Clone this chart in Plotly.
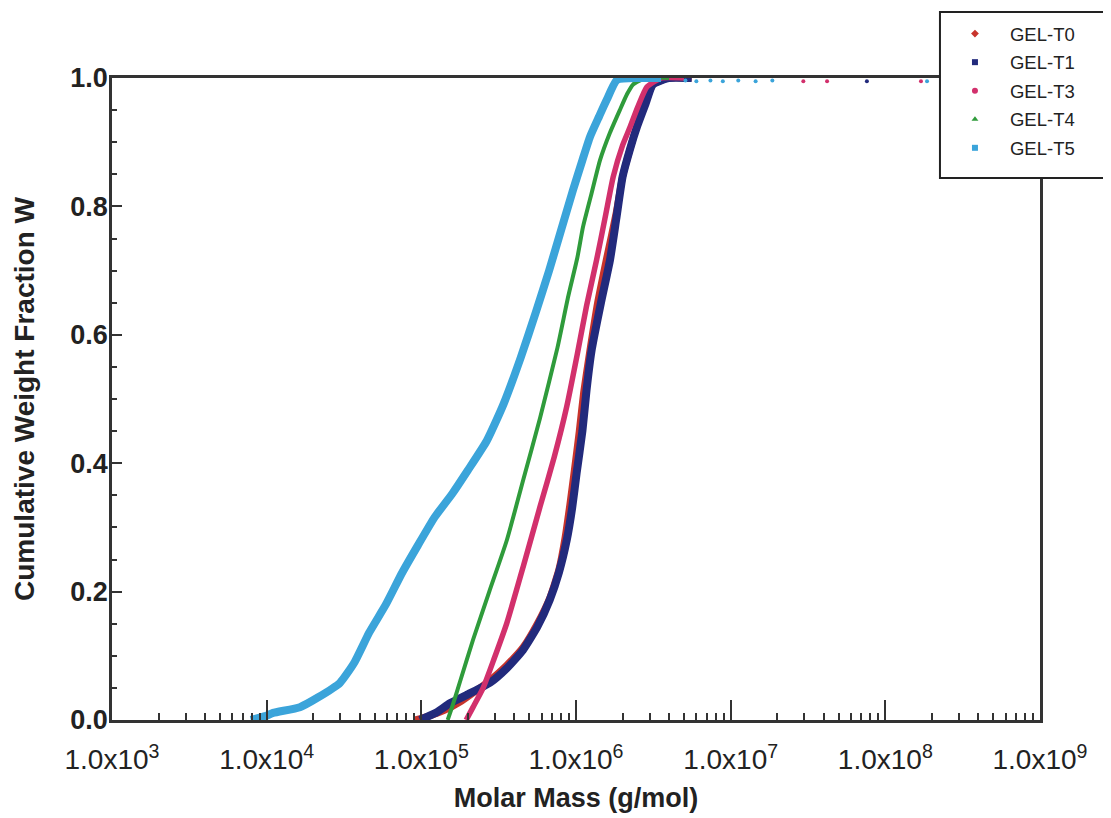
import plotly.graph_objects as go

# ---------------- data ----------------
series_names = ["GEL-T0", "GEL-T1", "GEL-T3", "GEL-T4", "GEL-T5"]

# GEL-T0
t0_mass = [9.1e4, 1.12e5, 1.41e5, 1.78e5, 2.24e5, 2.78e5, 3.55e5, 4.54e5, 5.62e5, 6.76e5,
           7.76e5, 8.51e5, 9.12e5, 9.77e5, 1.05e6, 1.12e6, 1.22e6, 1.38e6, 1.58e6, 1.82e6,
           2.0e6, 2.24e6, 2.51e6, 2.82e6, 3.16e6, 3.98e6, 5.6e6]
t0_w = [0.0, 0.006, 0.015, 0.028, 0.045, 0.062, 0.085, 0.113, 0.15, 0.19,
        0.235, 0.285, 0.335, 0.39, 0.45, 0.51, 0.57, 0.65, 0.72, 0.79,
        0.846, 0.89, 0.93, 0.965, 0.99, 1.0, 1.0]

# GEL-T1
t1_mass = [9.8e4, 1.26e5, 1.53e5, 2.0e5, 2.78e5, 3.55e5, 4.54e5, 5.62e5, 6.76e5, 7.76e5,
           8.71e5, 9.44e5, 1.01e6, 1.10e6, 1.17e6, 1.26e6, 1.45e6, 1.66e6, 1.82e6, 2.0e6,
           2.24e6, 2.48e6, 2.82e6, 3.14e6, 3.98e6, 5.6e6]
t1_w = [0.0, 0.012, 0.026, 0.04, 0.058, 0.08, 0.109, 0.145, 0.187, 0.23,
        0.28, 0.33, 0.385, 0.45, 0.514, 0.575, 0.65, 0.717, 0.78, 0.846,
        0.89, 0.924, 0.96, 0.99, 1.0, 1.0]

# GEL-T3
t3_mass = [1.95e5, 2.16e5, 2.51e5, 2.95e5, 3.57e5, 4.57e5, 5.85e5, 7.24e5, 8.71e5, 1.02e6,
           1.17e6, 1.36e6, 1.55e6, 1.74e6, 2.0e6, 2.24e6, 2.51e6, 2.87e6, 3.55e6, 5.0e6]
t3_w = [0.0, 0.02, 0.05, 0.095, 0.151, 0.24, 0.332, 0.41, 0.488, 0.57,
        0.645, 0.717, 0.785, 0.846, 0.895, 0.924, 0.955, 0.986, 1.0, 1.0]

# GEL-T4
t4_mass = [1.48e5, 1.58e5, 1.78e5, 2.16e5, 2.75e5, 3.57e5, 4.57e5, 5.85e5, 7.59e5, 8.91e5,
           1.02e6, 1.11e6, 1.26e6, 1.43e6, 1.66e6, 1.92e6, 2.14e6, 2.34e6, 2.82e6, 4.0e6]
t4_w = [0.0, 0.02, 0.06, 0.125, 0.20, 0.28, 0.375, 0.47, 0.58, 0.66,
        0.72, 0.768, 0.82, 0.872, 0.915, 0.95, 0.975, 0.99, 1.0, 1.0]

# GEL-T5
t5_mass = [7.9e3, 9.8e3, 1.10e4, 1.64e4, 2.14e4, 2.98e4, 3.70e4, 4.60e4, 5.90e4, 7.50e4,
           9.50e4, 1.22e5, 1.58e5, 2.00e5, 2.65e5, 3.40e5, 4.40e5, 5.50e5, 6.70e5, 7.94e5,
           9.55e5, 1.10e6, 1.23e6, 1.41e6, 1.58e6, 1.84e6, 2.51e6, 3.55e6]
t5_w = [0.0, 0.006, 0.011, 0.02, 0.035, 0.058, 0.09, 0.136, 0.18, 0.229,
        0.272, 0.316, 0.352, 0.389, 0.435, 0.492, 0.565, 0.635, 0.70, 0.76,
        0.825, 0.872, 0.908, 0.94, 0.966, 0.997, 1.0, 1.0]

# sparse points near W = 1 at high molar mass
t5_tail_mass = [5.1e6, 6.0e6, 7.4e6, 8.9e6, 1.12e7, 1.45e7, 1.86e7, 1.86e8]
t5_tail_w = [0.996, 0.995, 0.996, 0.995, 0.996, 0.995, 0.996, 0.995]
t3_tail_mass = [2.95e7, 4.2e7, 1.7e8]
t3_tail_w = [0.995, 0.995, 0.995]
t1_tail_mass = [7.6e7]
t1_tail_w = [0.995]

colors = {"GEL-T0": "#c8342c", "GEL-T1": "#222a7c", "GEL-T3": "#d2306c",
          "GEL-T4": "#2f9b3b", "GEL-T5": "#3ba4da"}
widths = {"GEL-T0": 7, "GEL-T1": 8, "GEL-T3": 5.5, "GEL-T4": 4, "GEL-T5": 8}
symbols = {"GEL-T0": "diamond", "GEL-T1": "square", "GEL-T3": "circle",
           "GEL-T4": "triangle-up", "GEL-T5": "square"}

curves = {"GEL-T0": (t0_mass, t0_w), "GEL-T1": (t1_mass, t1_w), "GEL-T3": (t3_mass, t3_w),
          "GEL-T4": (t4_mass, t4_w), "GEL-T5": (t5_mass, t5_w)}
tails = {"GEL-T5": (t5_tail_mass, t5_tail_w), "GEL-T3": (t3_tail_mass, t3_tail_w),
         "GEL-T1": (t1_tail_mass, t1_tail_w)}

fig = go.Figure()

# draw order: red under navy, then magenta, green, light blue
for name in ["GEL-T0", "GEL-T1", "GEL-T3", "GEL-T4", "GEL-T5"]:
    m, w = curves[name]
    fig.add_trace(go.Scatter(x=m, y=w, mode="lines", showlegend=False,
                             line=dict(color=colors[name], width=widths[name], shape="spline",
                                       smoothing=0.5),
                             hoverinfo="skip"))
for name, (m, w) in tails.items():
    fig.add_trace(go.Scatter(x=m, y=w, mode="markers", showlegend=False,
                             marker=dict(color=colors[name], size=4), hoverinfo="skip"))

# legend entries
for name in series_names:
    fig.add_trace(go.Scatter(x=[None], y=[None], mode="markers", name=name,
                             legendgroup=name,
                             marker=dict(color=colors[name], size=6, symbol=symbols[name])))

font_family = "Arial, Liberation Sans, sans-serif"
x_tickvals = [1e3, 1e4, 1e5, 1e6, 1e7, 1e8, 1e9]
x_ticktext = ["1.0x10<sup>%d</sup>" % e for e in range(3, 10)]
y_tickvals = [0.0, 0.2, 0.4, 0.6, 0.8, 1.0]
y_ticktext = ["<b>%.1f</b>" % v for v in y_tickvals]

# legend frame (runs off the right edge of the picture, as in the original)
fig.add_shape(type="rect", xref="paper", yref="paper",
              x0=0.8922, x1=1.12, y0=0.8442, y1=1.1028,
              line=dict(color="#222222", width=2), fillcolor="white", layer="above")

fig.update_layout(
    width=1103, height=810,
    margin=dict(l=104, r=71, t=70, b=98, autoexpand=False),
    paper_bgcolor="white", plot_bgcolor="white",
    font=dict(family=font_family, color="#222222"),
    legend=dict(x=0.8922, y=1.098, xanchor="left", yanchor="top",
                bgcolor="rgba(0,0,0,0)", borderwidth=0,
                font=dict(size=18.5, color="#222222", family=font_family),
                traceorder="grouped", tracegroupgap=1.5, itemwidth=60),
    xaxis=dict(type="log", range=[3, 9], tickvals=x_tickvals, ticktext=x_ticktext,
               ticks="inside", ticklen=20, tickwidth=2, tickcolor="#333333",
               showline=True, linecolor="#333333", linewidth=2.5, mirror=True,
               showgrid=False, zeroline=False, ticklabelstandoff=13,
               tickfont=dict(size=28, color="#222222"),
               minor=dict(ticks="inside", ticklen=7, tickwidth=1.5, tickcolor="#333333",
                          dtick="D1", showgrid=False),
               title=dict(text="<b>Molar Mass (g/mol)</b>", font=dict(size=27, color="#222222"),
                          standoff=14)),
    yaxis=dict(range=[0, 1.0], tickvals=y_tickvals, ticktext=y_ticktext,
               ticks="inside", ticklen=10, tickwidth=2, tickcolor="#333333",
               showline=True, linecolor="#333333", linewidth=2.5, mirror=True,
               showgrid=False, zeroline=False, ticklabelstandoff=-4,
               tickfont=dict(size=27, color="#222222"),
               minor=dict(ticks="inside", ticklen=5, tickwidth=1.5, tickcolor="#333333",
                          dtick=0.05, showgrid=False),
               title=dict(text="<b>Cumulative Weight Fraction W</b>",
                          font=dict(size=28, color="#222222"), standoff=28)),
)

fig.write_html("out.html")
